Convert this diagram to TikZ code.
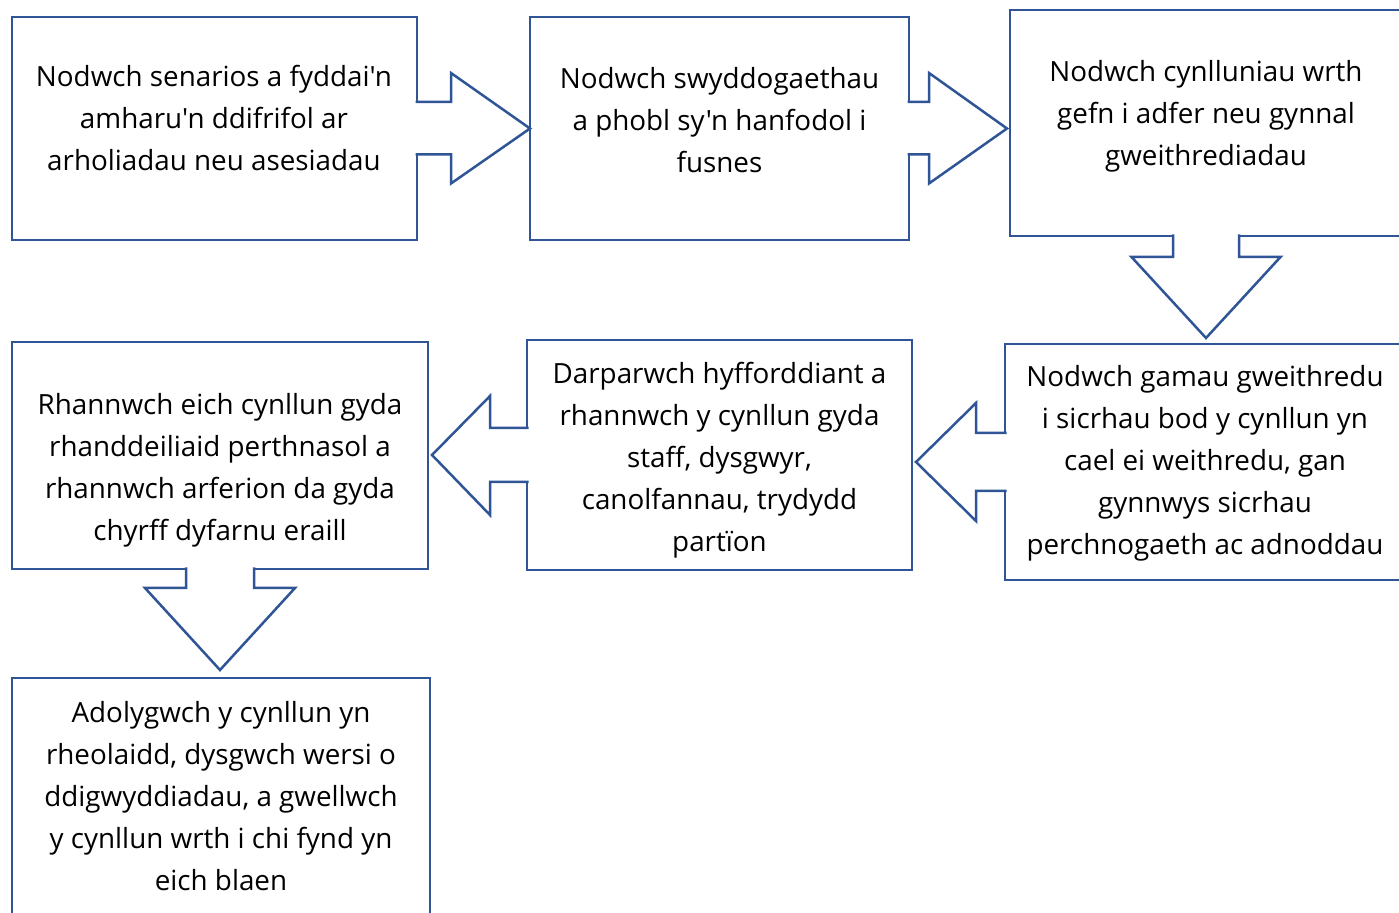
\documentclass[tikz,border=0pt]{standalone}
\usepackage{fontspec}
\setmainfont{Open Sans}[Ligatures=TeXOff]
\usetikzlibrary{calc}
\definecolor{boxblue}{RGB}{47,85,151}

\begin{document}
\begin{tikzpicture}[x=0.5pt,y=-0.5pt,
  box/.style={draw=boxblue,line width=1.25pt,fill=white,inner sep=0pt,outer sep=0pt},
  txt/.style={align=center,inner sep=0pt,font=\fontsize{13.9pt}{21pt}\selectfont},
  blockarrow/.style={draw=boxblue,fill=white,line width=1.25pt,line join=miter}]
  \clip (0,0) rectangle (1399,913);
  \useasboundingbox (0,0) rectangle (1399,913);
  % boxes
  \node[box,minimum width=202.5pt,minimum height=111.5pt] (b1) at (214.5,128.5) {};
  \node[box,minimum width=189.5pt,minimum height=111.5pt] (b2) at (719.5,128.5) {};
  \node[box,minimum width=196pt,minimum height=113pt] (b3) at (1206,123) {};
  \node[box,minimum width=198.5pt,minimum height=118pt] (b4) at (1203.5,462) {};
  \node[box,minimum width=192.5pt,minimum height=115pt] (b5) at (719.5,455) {};
  \node[box,minimum width=208pt,minimum height=113.5pt] (b6) at (220,455.5) {};
  \node[box,minimum width=209pt,minimum height=121pt] (b7) at (221,799) {};
  % texts
  \node[txt] (t1) at (214,118) {Nodwch senarios a fyddai'n\\amharu'n ddifrifol ar\\arholiadau neu asesiadau};
  \node[txt] (t2) at (719.5,120) {Nodwch swyddogaethau\\a phobl sy'n hanfodol i\\fusnes};
  \node[txt] (t3) at (1206,116) {Nodwch cynlluniau wrth\\gefn i adfer neu gynnal\\gweithrediadau};
  \node[txt] (t4) at (1205,463.5) {Nodwch gamau gweithredu\\i sicrhau bod y cynllun yn\\cael ei weithredu, gan\\gynnwys sicrhau\\perchnogaeth ac adnoddau};
  \node[txt] (t5) at (719.5,460) {Darparwch hyfforddiant a\\rhannwch y cynllun gyda\\staff, dysgwyr,\\canolfannau, trydydd\\partïon};
  \node[txt] (t6) at (220,470) {Rhannwch eich cynllun gyda\\rhanddeiliaid perthnasol a\\rhannwch arferion da gyda\\chyrff dyfarnu eraill};
  \node[txt] (t7) at (221,796) {Adolygwch y cynllun yn\\rheolaidd, dysgwch wersi o\\ddigwyddiadau, a gwellwch\\y cynllun wrth i chi fynd yn\\eich blaen};
  % arrow 1 -> 2
  \filldraw[blockarrow] ($(b1.east)+(-1.5,-26.5)$) -- ++(35.5,0) -- ++(0,-29)
    -- (b2.west) -- ++(-79,55) -- ++(0,-29) -- ++(-35.5,0);
  % arrow 2 -> 3
  \filldraw[blockarrow] ($(b2.east)+(-1.5,-26.5)$) -- ++(21.5,0) -- ++(0,-29)
    -- ($(b2.east -| b3.west)+(-3,0)$) -- ++(-78,55) -- ++(0,-29) -- ++(-21.5,0);
  % arrow 3 -> 4
  \filldraw[blockarrow] ($(b3.south)+(-33,-1.5)$) -- ++(0,22.5) -- ++(-41.5,0)
    -- ($(b3.south |- b4.north)+(0,-6)$) -- ++(74.5,-81) -- ++(-41.5,0) -- ++(0,-22.5);
  % arrow 4 -> 5
  \filldraw[blockarrow] ($(b4.west)+(1.5,-29)$) -- ++(-30.5,0) -- ++(0,-30)
    -- ($(b4.west -| b5.east)+(4,0)$) -- ++(60,59) -- ++(0,-30) -- ++(30.5,0);
  % arrow 5 -> 6
  \filldraw[blockarrow] ($(b5.west)+(1.5,-27)$) -- ++(-38.5,0) -- ++(0,-32)
    -- ($(b5.west -| b6.east)+(4,0)$) -- ++(58,60) -- ++(0,-33) -- ++(38.5,0);
  % arrow 6 -> 7
  \filldraw[blockarrow] ($(b6.south)+(-34,-1.5)$) -- ++(0,20.5) -- ++(-41,0)
    -- ($(b6.south |- b7.north)+(0,-8)$) -- ++(75,-82) -- ++(-41,0) -- ++(0,-20.5);
\end{tikzpicture}
\end{document}
